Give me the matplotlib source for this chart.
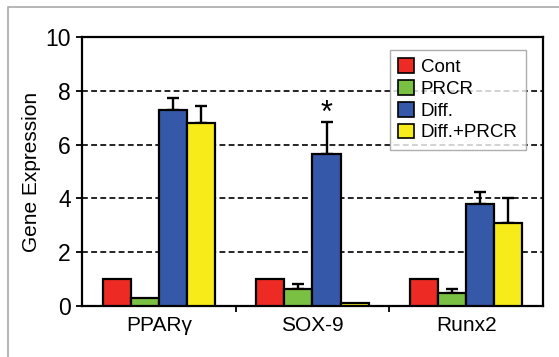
import matplotlib

matplotlib.use("Agg")
import matplotlib.pyplot as plt  # noqa: E402
import numpy as np  # noqa: E402
from matplotlib.patches import Rectangle  # noqa: E402

genes = ["PPAR\u03b3", "SOX-9", "Runx2"]
groups = ["Cont", "PRCR", "Diff.", "Diff.+PRCR"]
cont = [1.0, 1.0, 1.0]
prcr = [0.3, 0.65, 0.47]
diff = [7.3, 5.65, 3.8]
diff_prcr = [6.8, 0.1, 3.1]
cont_err = [0.0, 0.0, 0.0]
prcr_err = [0.0, 0.15, 0.18]
diff_err = [0.45, 1.2, 0.42]
diff_prcr_err = [0.65, 0.0, 0.9]
colors = ["#EE2A24", "#7AC143", "#3558A8", "#F7EC1A"]
yticks = [0, 2, 4, 6, 8, 10]

plt.rcParams["font.family"] = ["Liberation Sans", "DejaVu Sans"]

fig = plt.figure(figsize=(5.59, 3.57), dpi=100)
fig.patches.append(Rectangle((8 / 559, -0.1), 1.2, 1.1 - 7 / 357,
                             transform=fig.transFigure, fill=False,
                             edgecolor="#aaaaaa", linewidth=1.2))
ax = fig.add_axes([82 / 559, 1 - 306 / 357, 461 / 559, 269 / 357])

x = np.arange(len(genes))
width = 0.183
series = [cont, prcr, diff, diff_prcr]
errors = [cont_err, prcr_err, diff_err, diff_prcr_err]
for i, (vals, errs, color, label) in enumerate(zip(series, errors, colors, groups)):
    pos = x + (i - 1.5) * width
    ax.bar(pos, vals, width, color=color, edgecolor="black", linewidth=1.6,
           label=label, zorder=3)
    errs = np.array(errs)
    mask = errs > 0
    ax.errorbar(pos[mask], np.array(vals)[mask], yerr=[np.zeros(mask.sum()), errs[mask]],
                fmt="none", ecolor="black", elinewidth=1.7, capsize=4, capthick=1.7,
                zorder=2)

# significance marker over SOX-9 Diff.
ax.text(x[1] + 0.5 * width, diff[1] + diff_err[1] - 0.25, "*", ha="center",
        va="bottom", fontsize=22, color="black")

ax.set_xlim(-0.5, 2.5)
ax.set_ylim(0, 10)
ax.set_yticks(yticks)
ax.set_xticks(x)
ax.set_xticklabels(genes, fontsize=15)
ax.set_xticks([0.5, 1.5], minor=True)
ax.tick_params(axis="x", which="major", length=0, pad=7)
ax.tick_params(axis="x", which="minor", length=4, width=1.3, direction="out")
ax.tick_params(axis="y", labelsize=16.5, length=4, width=1.3, direction="out", pad=4)
ax.set_ylabel("Gene Expression", fontsize=15, labelpad=3)
ax.yaxis.grid(True, linestyle=(0, (3.5, 2)), color="black", linewidth=1.2)
ax.set_axisbelow(True)
for spine in ax.spines.values():
    spine.set_linewidth(1.6)

leg = ax.legend(loc="upper right", bbox_to_anchor=(0.963, 0.952), fontsize=13.5,
                frameon=True, fancybox=False, edgecolor="#999999",
                handlelength=0.85, handleheight=0.85, handletextpad=0.35,
                labelspacing=0.2, borderpad=0.45, borderaxespad=0)
leg.get_frame().set_linewidth(1.0)
for h in leg.legend_handles:
    h.set_linewidth(1.2)

fig.savefig("out.png", dpi=100)
